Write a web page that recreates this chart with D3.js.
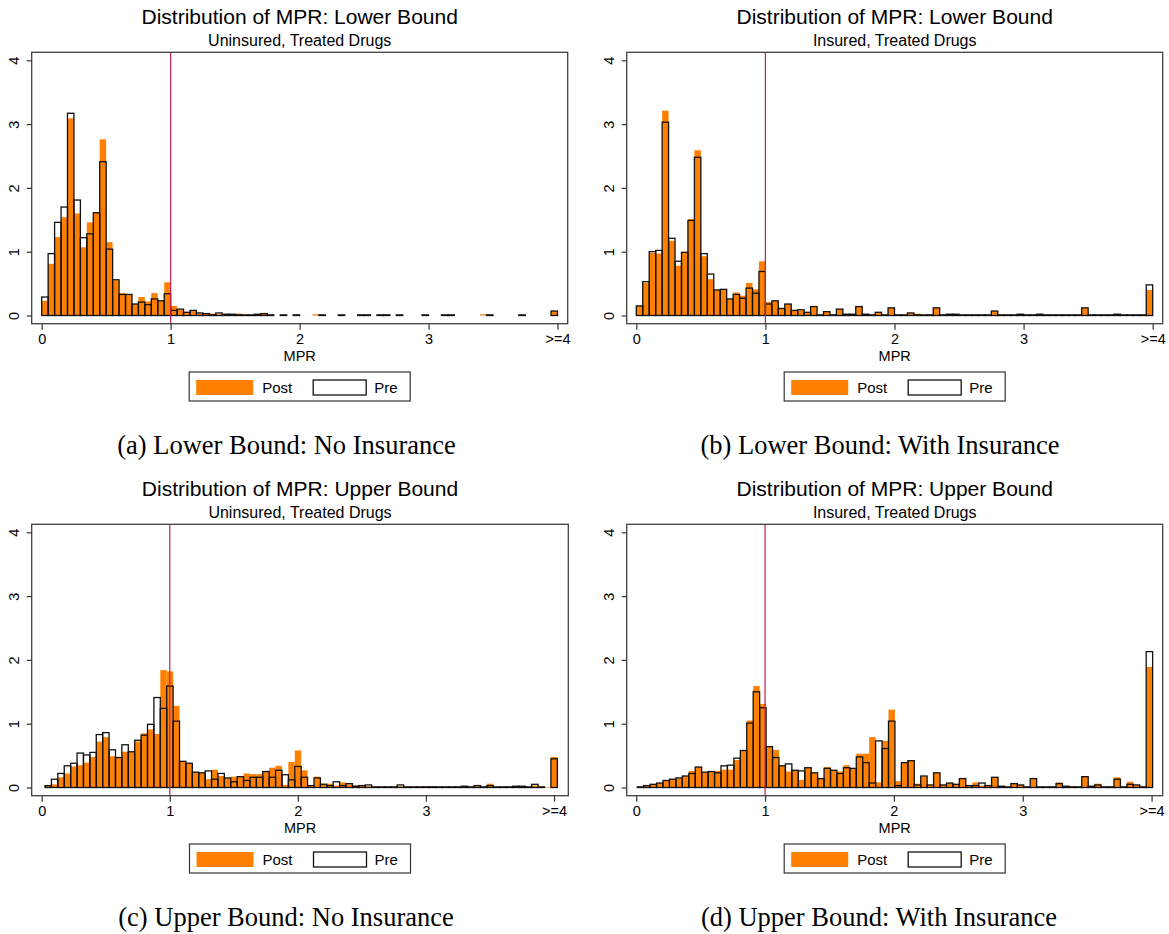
<!DOCTYPE html>
<html>
<head>
<meta charset="utf-8">
<script src="https://cdn.jsdelivr.net/npm/d3@7"></script>
<style>
  body { margin: 0; background: #fff; }
  svg { display: block; }
  text { font-family: "Liberation Sans", Arial, Helvetica, sans-serif; fill: #000; }
  .caption { font-family: "Liberation Serif", "Times New Roman", serif; }
</style>
</head>
<body>
<script>
// DATA //
const binWidth = 0.05;
// left edge of the first bin, per panel (a, b, c, d)
const binStart = [0, 0, 0.026, 0.008];
const xTickValues = [0, 1, 2, 3, 4];
const xTickLabels = ['0', '1', '2', '3', '>=4'];
const yTickValues = [0, 1, 2, 3, 4];
const refLine = 1;
const legendLabels = ['Post', 'Pre'];

const titles = ['Distribution of MPR: Lower Bound', 'Distribution of MPR: Lower Bound',
    'Distribution of MPR: Upper Bound', 'Distribution of MPR: Upper Bound'];
const subtitles = ['Uninsured, Treated Drugs', 'Insured, Treated Drugs',
    'Uninsured, Treated Drugs', 'Insured, Treated Drugs'];
const captions = ['(a) Lower Bound: No Insurance', '(b) Lower Bound: With Insurance',
    '(c) Upper Bound: No Insurance', '(d) Upper Bound: With Insurance'];

// densities, 80 bins each
const lowerUninsPre = [
    0.29, 0.97, 1.46, 1.70, 3.17, 1.81, 1.22, 1.28, 1.61, 2.41, 1.04, 0.56, 0.33, 0.33, 0.18, 0.21, 0.17, 0.26, 0.23, 0.34,
    0.08, 0.10, 0.05, 0.08, 0.04, 0.03, 0.01, 0.04, 0.02, 0.02, 0.01, 0.01, 0.01, 0.02, 0.03, 0.01, 0, 0.01, 0, 0.01,
    0, 0, 0, 0.01, 0, 0, 0.01, 0, 0, 0.01, 0.01, 0, 0.01, 0.01, 0, 0.01, 0, 0, 0, 0.01,
    0, 0, 0.01, 0.01, 0, 0, 0, 0, 0, 0.01, 0, 0, 0, 0, 0.01, 0, 0, 0, 0, 0.07];
const lowerUninsPost = [
    0.23, 0.81, 1.23, 1.54, 3.09, 1.60, 1.07, 1.46, 1.62, 2.76, 1.15, 0.55, 0.35, 0.33, 0.18, 0.29, 0.22, 0.35, 0.23, 0.52,
    0.15, 0.09, 0.05, 0.07, 0.035, 0.03, 0.03, 0.02, 0.02, 0.02, 0.03, 0.01, 0.01, 0.02, 0.03, 0.01, 0, 0, 0, 0.01,
    0, 0, 0.02, 0, 0, 0, 0, 0, 0, 0.01, 0, 0, 0, 0.01, 0, 0, 0, 0, 0, 0,
    0, 0, 0.01, 0, 0, 0, 0, 0, 0.02, 0.01, 0, 0, 0, 0, 0, 0, 0, 0, 0, 0.07];

const lowerInsPre = [
    0.15, 0.53, 1.00, 1.02, 3.03, 1.21, 0.85, 0.99, 1.49, 2.48, 0.97, 0.65, 0.40, 0.41, 0.26, 0.33, 0.27, 0.43, 0.35, 0.69,
    0.18, 0.23, 0.11, 0.18, 0.08, 0.09, 0.05, 0.14, 0.01, 0.06, 0.01, 0.10, 0.02, 0.02, 0.14, 0.02, 0.01, 0.05, 0.01, 0.12,
    0.01, 0.01, 0.04, 0.01, 0.01, 0.01, 0.12, 0.01, 0.02, 0.02, 0.01, 0.01, 0.01, 0.01, 0.01, 0.07, 0.01, 0.01, 0.01, 0.02,
    0.01, 0.01, 0.02, 0.01, 0.01, 0.01, 0.01, 0.01, 0.01, 0.12, 0.01, 0.01, 0.01, 0.01, 0.02, 0.01, 0.01, 0.01, 0.01, 0.48];
const lowerInsPost = [
    0.15, 0.51, 0.98, 0.97, 3.21, 1.17, 0.78, 0.99, 1.51, 2.59, 0.93, 0.57, 0.40, 0.41, 0.26, 0.36, 0.31, 0.51, 0.41, 0.85,
    0.21, 0.23, 0.11, 0.18, 0.07, 0.08, 0.05, 0.14, 0.01, 0.06, 0.01, 0.10, 0.02, 0.02, 0.14, 0.02, 0.01, 0.04, 0.01, 0.12,
    0.01, 0.01, 0.04, 0.03, 0.01, 0.01, 0.12, 0.01, 0.02, 0.02, 0.01, 0.01, 0.01, 0.01, 0.01, 0.07, 0.01, 0.01, 0.01, 0.02,
    0.01, 0.01, 0.02, 0.01, 0.01, 0.01, 0.01, 0.01, 0.01, 0.12, 0.01, 0.01, 0.01, 0.01, 0.01, 0.01, 0.01, 0.01, 0.01, 0.40];

const upperUninsPre = [
    0.03, 0.13, 0.22, 0.34, 0.38, 0.54, 0.51, 0.55, 0.83, 0.86, 0.59, 0.47, 0.67, 0.56, 0.74, 0.82, 0.99, 1.41, 1.24, 1.59,
    1.04, 0.41, 0.38, 0.24, 0.23, 0.26, 0.13, 0.22, 0.15, 0.09, 0.17, 0.11, 0.16, 0.16, 0.25, 0.16, 0.27, 0.20, 0.12, 0.33,
    0.16, 0.03, 0.15, 0.05, 0.03, 0.09, 0.03, 0.06, 0.02, 0.03, 0.04, 0.01, 0.01, 0.01, 0.01, 0.04, 0.01, 0.01, 0.01, 0.01,
    0.01, 0.01, 0.01, 0.01, 0.01, 0.02, 0.01, 0.03, 0.01, 0.03, 0.01, 0.01, 0.01, 0.02, 0.02, 0.01, 0.05, 0.01, 0, 0.45];
const upperUninsPost = [
    0.03, 0.05, 0.16, 0.22, 0.33, 0.35, 0.39, 0.48, 0.72, 0.79, 0.49, 0.47, 0.56, 0.56, 0.72, 0.85, 0.91, 0.84, 1.84, 1.82,
    1.28, 0.41, 0.37, 0.24, 0.23, 0.13, 0.28, 0.18, 0.15, 0.17, 0.17, 0.22, 0.21, 0.21, 0.25, 0.31, 0.34, 0.04, 0.40, 0.58,
    0.27, 0.03, 0.17, 0.06, 0.06, 0.03, 0.08, 0.05, 0.03, 0.03, 0.02, 0.01, 0.01, 0.01, 0.01, 0.02, 0.01, 0.01, 0.01, 0.02,
    0.02, 0.01, 0.01, 0.01, 0.01, 0.02, 0.01, 0.02, 0.01, 0.06, 0.01, 0.01, 0.01, 0.02, 0.02, 0.01, 0.03, 0.01, 0.01, 0.48];

const upperInsPre = [
    0.01, 0.03, 0.05, 0.07, 0.11, 0.13, 0.15, 0.18, 0.22, 0.32, 0.24, 0.25, 0.23, 0.34, 0.35, 0.46, 0.58, 1.01, 1.50, 1.25,
    0.64, 0.47, 0.34, 0.37, 0.27, 0.26, 0.31, 0.23, 0.14, 0.30, 0.27, 0.22, 0.31, 0.30, 0.48, 0.39, 0.07, 0.73, 0.61, 1.04,
    0.03, 0.39, 0.42, 0.04, 0.18, 0.04, 0.23, 0.04, 0.07, 0.05, 0.14, 0.03, 0.03, 0.07, 0.03, 0.16, 0.02, 0.01, 0.06, 0.04,
    0.01, 0.14, 0.01, 0.01, 0.01, 0.06, 0.02, 0.01, 0.01, 0.17, 0.02, 0.04, 0.01, 0.01, 0.13, 0.01, 0.05, 0.04, 0.01, 2.13];
const upperInsPost = [
    0.01, 0.03, 0.05, 0.07, 0.11, 0.13, 0.15, 0.18, 0.26, 0.32, 0.24, 0.25, 0.26, 0.28, 0.28, 0.43, 0.58, 1.05, 1.59, 1.31,
    0.64, 0.59, 0.34, 0.25, 0.27, 0.12, 0.31, 0.23, 0.14, 0.32, 0.27, 0.25, 0.35, 0.30, 0.53, 0.53, 0.79, 0.08, 0.73, 1.22,
    0.10, 0.39, 0.42, 0.06, 0.17, 0.04, 0.23, 0.04, 0.07, 0.05, 0.14, 0.03, 0.08, 0.03, 0.03, 0.16, 0.02, 0.01, 0.06, 0.04,
    0.01, 0.14, 0.01, 0.01, 0.01, 0.08, 0.02, 0.02, 0.01, 0.17, 0.02, 0.06, 0.01, 0.01, 0.16, 0.01, 0.09, 0.04, 0.01, 1.89];

const preSeries = [lowerUninsPre, lowerInsPre, upperUninsPre, upperInsPre];
const postSeries = [lowerUninsPost, lowerInsPost, upperUninsPost, upperInsPost];

// LAYOUT //
const W = 1169, H = 934;
const rowShift = 472;
const ORANGE = '#ff8000';

// frame box and pixel position of 0 and 4 on the x axis
const panels = [
    { left: 31.7, right: 567.7, top: 52.3, bottom: 323.7, x0: 41.7, x4: 557.5, cap: 286.5 },
    { left: 626.7, right: 1162.7, top: 52.3, bottom: 323.7, x0: 636.3, x4: 1152.7, cap: 880 },
    { left: 31.7, right: 568.3, top: 52.3, bottom: 323.7, x0: 41.7, x4: 554, cap: 286 },
    { left: 626.7, right: 1162.7, top: 52.3, bottom: 323.7, x0: 636.2, x4: 1151.6, cap: 879 }
];

const svg = d3.select('body').append('svg')
    .attr('width', W)
    .attr('height', H);

panels.forEach(function (p, i) {
    const dy = i < 2 ? 0 : rowShift;
    const g = svg.append('g').attr('transform', `translate(0, ${dy})`);

    const x = d3.scaleLinear().domain([0, 4]).range([p.x0, p.x4]);
    const y = d3.scaleLinear().domain([0, 4]).range([315.5, 60.3]);
    const cx = (p.left + p.right) / 2;

    // titles
    g.append('text').attr('x', cx).attr('y', 23.5)
        .attr('text-anchor', 'middle').style('font-size', '21px').text(titles[i]);
    g.append('text').attr('x', cx).attr('y', 45.5)
        .attr('text-anchor', 'middle').style('font-size', '16px').text(subtitles[i]);

    // bins -> objects
    const bins = preSeries[i].map(function (v, k) {
        return { k: k, pre: v, post: postSeries[i][k], x0: binStart[i] + k * binWidth, x1: binStart[i] + (k + 1) * binWidth };
    });

    // Post bars (filled)
    g.append('g').selectAll('rect')
        .data(bins.filter(d => d.post > 0))
        .join('rect')
        .attr('x', d => x(d.x0))
        .attr('width', d => x(d.x1) - x(d.x0))
        .attr('y', d => y(d.post))
        .attr('height', d => y(0) - y(d.post))
        .attr('fill', ORANGE);

    // Pre bars (outline only)
    g.append('g').selectAll('rect')
        .data(bins.filter(d => d.pre > 0))
        .join('rect')
        .attr('x', d => x(d.x0))
        .attr('width', d => x(d.x1) - x(d.x0))
        .attr('y', d => y(d.pre))
        .attr('height', d => y(0) - y(d.pre))
        .attr('fill', 'none')
        .attr('stroke', '#111')
        .attr('stroke-width', 1.3);

    // reference line at MPR = 1
    g.append('line')
        .attr('x1', x(refLine)).attr('x2', x(refLine))
        .attr('y1', p.top).attr('y2', p.bottom)
        .attr('stroke', '#c81e50')
        .attr('stroke-width', 1.2);

    // frame
    g.append('rect')
        .attr('x', p.left).attr('y', p.top)
        .attr('width', p.right - p.left).attr('height', p.bottom - p.top)
        .attr('fill', 'none')
        .attr('stroke', '#404040')
        .attr('stroke-width', 1.3);

    // x axis
    const xa = g.append('g')
        .attr('transform', `translate(0, ${p.bottom})`)
        .call(d3.axisBottom(x).tickValues(xTickValues)
            .tickFormat((d, j) => xTickLabels[j])
            .tickSizeInner(6).tickSizeOuter(0).tickPadding(4.3));
    xa.select('.domain').remove();
    xa.selectAll('line').attr('stroke', '#333').attr('stroke-width', 1.2);
    xa.selectAll('text').style('font-size', '14.5px').style('font-family', null).attr('fill', '#000');

    // y axis
    const ya = g.append('g')
        .attr('transform', `translate(${p.left}, 0)`)
        .call(d3.axisLeft(y).tickValues(yTickValues).tickFormat(d3.format('d'))
            .tickSizeInner(5).tickSizeOuter(0));
    ya.select('.domain').remove();
    ya.selectAll('line').attr('stroke', '#333').attr('stroke-width', 1.2);
    ya.selectAll('text')
        .attr('x', null).attr('dy', null)
        .attr('text-anchor', 'middle')
        .attr('transform', 'translate(-13, 0) rotate(-90)')
        .style('font-size', '14.5px').style('font-family', null).attr('fill', '#000');

    // x title
    g.append('text').attr('x', cx).attr('y', 361)
        .attr('text-anchor', 'middle').style('font-size', '14.5px').text('MPR');

    // legend
    const lx = cx - 110.5, ly = 372;
    const lg = g.append('g').attr('transform', `translate(${lx}, ${ly})`);
    lg.append('rect').attr('width', 221).attr('height', 29)
        .attr('fill', '#fff').attr('stroke', '#333').attr('stroke-width', 1.2);
    lg.append('rect').attr('x', 7).attr('y', 8).attr('width', 57).attr('height', 15).attr('fill', ORANGE);
    lg.append('text').attr('x', 73).attr('y', 21).style('font-size', '15px').text(legendLabels[0]);
    lg.append('rect').attr('x', 124).attr('y', 8).attr('width', 53).attr('height', 15)
        .attr('fill', '#fff').attr('stroke', '#111').attr('stroke-width', 1.3);
    lg.append('text').attr('x', 185).attr('y', 21).style('font-size', '15px').text(legendLabels[1]);

    // caption
    g.append('text').attr('class', 'caption')
        .attr('x', p.cap).attr('y', 454)
        .attr('text-anchor', 'middle').style('font-size', '26.5px').text(captions[i]);
});
</script>
</body>
</html>
